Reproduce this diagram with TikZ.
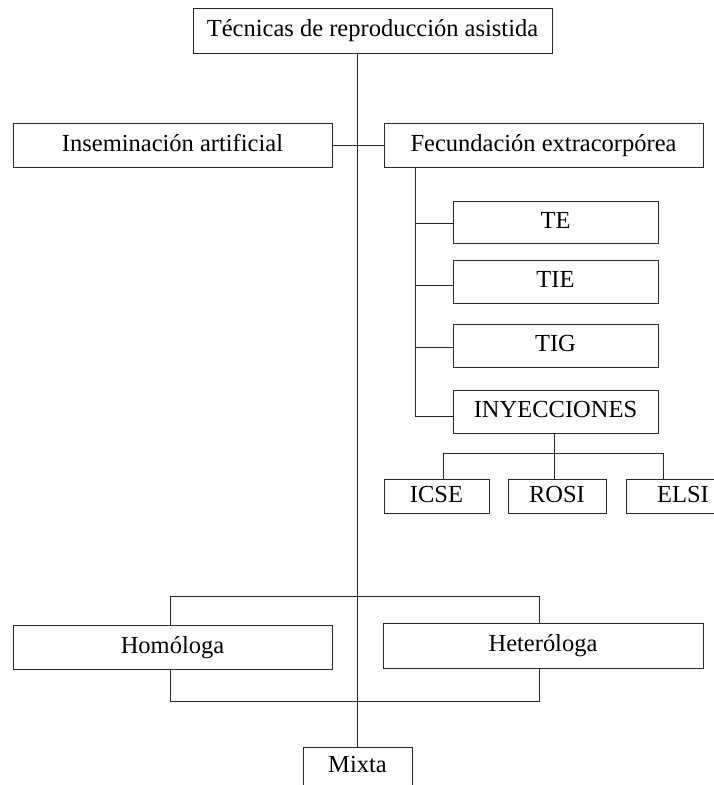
\documentclass[tikz,border=0pt]{standalone}
\usepackage{fontspec}
\setmainfont{Liberation Serif}
\begin{document}
\begin{tikzpicture}[x=1pt,y=-1pt,
  box/.style={draw=black!85, line width=1pt, rectangle, inner sep=0pt,
    font=\fontsize{24.5}{28}\selectfont, text height=17pt, text depth=5pt,
    minimum height=#1},
  box/.default=44pt,
  link/.style={draw=black!85, line width=0.9pt}]
\useasboundingbox (0,0) rectangle (714,785);
\clip (0,0) rectangle (714,785);

% root and first level
\node[box=45pt, minimum width=359pt] (root) at (372.5,30.5) {Técnicas de reproducción asistida};
\node[box, minimum width=319pt] (ia) at (172.5,145) {Inseminación artificial};
\node[box, minimum width=319pt] (fe) at (543.5,145) {Fecundación extracorpórea};

% techniques under extracorporeal fertilisation
\node[box=42pt, minimum width=205pt] (te)  at (555.5,222)   {TE};
\node[box=43pt, minimum width=205pt] (tie) at (555.5,281.5) {TIE};
\node[box=43pt, minimum width=205pt] (tig) at (555.5,345.5) {TIG};
\node[box=43pt, minimum width=205pt] (iny) at (555.5,411.5) {INYECCIONES};

% injection methods
\node[box=34pt, minimum width=105pt] (icse) at (436.5,496) {ICSE};
\node[box=34pt, minimum width=98pt]  (rosi) at (557,496)   {ROSI};
\node[box=34pt, minimum width=114pt] (elsi) at (683,496)   {ELSI};

% donor types
\node[box, minimum width=319pt]      (hom) at (172.5,647) {Homóloga};
\node[box=45pt, minimum width=320pt] (het) at (543,645.5) {Heteróloga};
\node[box=60pt, minimum width=109pt, text depth=26pt] (mix) at (357.5,777) {Mixta};

% trunk
\coordinate (trunktop) at (357,53);
\draw[link] (trunktop) -- (357,747);

% first-level link
\draw[link] (ia.east) -- (fe.west);

% branch from extracorporeal fertilisation
\coordinate (br) at (415,167);
\draw[link] (br) |- ([yshift=-1pt]te.west);
\draw[link] (br |- te.west) |- ([yshift=-4pt]tie.west);
\draw[link] (br |- te.west) |- ([yshift=-1.5pt]tig.west);
\draw[link] (br |- te.west) |- ([yshift=-5pt]iny.west);

% injection fan-out
\coordinate (fan) at (554,453);
\draw[link] (554,433) -- (fan);
\draw[link] (443,453) -- (663,453);
\draw[link] (443,453) -- (443,479);
\draw[link] (fan) -- (554,479);
\draw[link] (663,453) -- (663,479);

% brackets linking the two donor types
\draw[link] (170,625) |- (539,596) -- (539,623);
\draw[link] (170,669) |- (539,701) -- (539,668);
\end{tikzpicture}
\end{document}
